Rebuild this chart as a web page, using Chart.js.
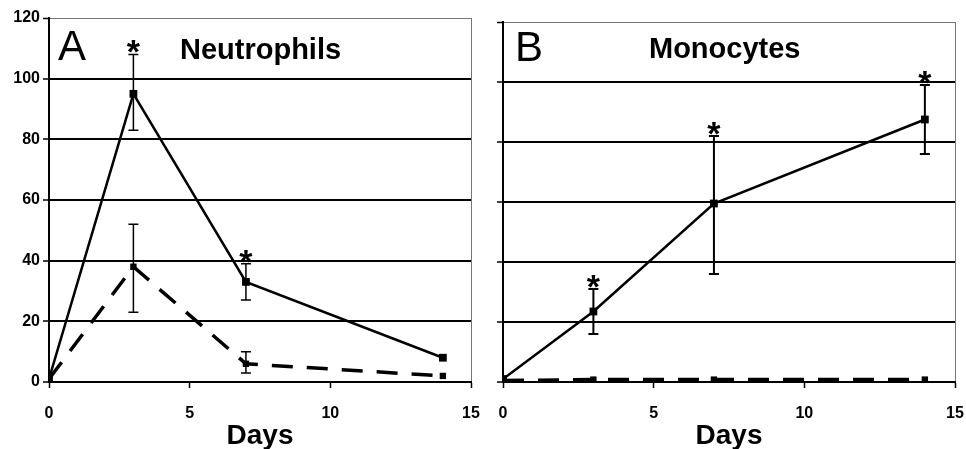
<!DOCTYPE html>
<html>
<head>
<meta charset="utf-8">
<script src="https://cdn.jsdelivr.net/npm/chart.js@4.4.0/dist/chart.umd.min.js"></script>
<style>
  html, body { margin: 0; padding: 0; background: #fff; }
  .panel { position: absolute; top: 0; width: 483px; height: 449px; }
  #pA { left: 0; }
  #pB { left: 483px; }
</style>
</head>
<body>
<div class="panel" id="pA"><canvas id="cA" width="483" height="449"></canvas></div>
<div class="panel" id="pB"><canvas id="cB" width="483" height="449"></canvas></div>
<script>
// data
const days = [0, 3, 7, 14];
const xTicks = [0, 5, 10, 15];
const yTicks = [0, 20, 40, 60, 80, 100, 120];

const neutroInfected = [1, 95, 33, 8];
const neutroInfLow = [null, 83, 27, null];
const neutroInfHigh = [null, 108, 39, null];
const neutroControl = [1, 38, 6, 2];
const neutroCtlLow = [null, 23, 3, null];
const neutroCtlHigh = [null, 52, 10, null];
const neutroStars = [false, true, true, false];

const monoInfected = [1, 23.5, 59.5, 87.5];
const monoInfLow = [null, 16, 36, 76];
const monoInfHigh = [null, 31, 82, 99];
const monoControl = [0.5, 0.8, 0.8, 0.8];
const monoStars = [false, true, true, true];

const FONT = "'Liberation Sans', Arial, Helvetica, sans-serif";

function pts(vals) { return days.map((d, i) => ({ x: d, y: vals[i] })); }

// error bars, stars and the panel labels
const extras = {
  id: 'extras',
  afterDatasetsDraw(chart, args, opts) {
    const ctx = chart.ctx, xs = chart.scales.x, ys = chart.scales.y;
    ctx.save();
    ctx.strokeStyle = '#000';
    ctx.lineWidth = opts.errWidth;
    (opts.errors || []).forEach(e => {
      days.forEach((d, i) => {
        if (e.low[i] == null) return;
        const x = xs.getPixelForValue(d);
        const y1 = ys.getPixelForValue(e.low[i]), y2 = ys.getPixelForValue(e.high[i]);
        ctx.beginPath();
        ctx.moveTo(x, y1); ctx.lineTo(x, y2);
        ctx.moveTo(x - 5, y1); ctx.lineTo(x + 5, y1);
        ctx.moveTo(x - 5, y2); ctx.lineTo(x + 5, y2);
        ctx.stroke();
        if (e.stars && e.stars[i]) {
          ctx.fillStyle = '#000';
          ctx.font = 'bold 34px ' + FONT;
          ctx.textAlign = 'center';
          ctx.textBaseline = 'alphabetic';
          ctx.fillText('*', x, y2 + 9);
        }
      });
    });
    const a = chart.chartArea;
    ctx.fillStyle = '#000';
    ctx.textBaseline = 'alphabetic';
    ctx.textAlign = 'left';
    ctx.font = '42px ' + FONT;
    ctx.fillText(opts.letter, a.left + opts.letterDx, a.top + opts.letterDy);
    ctx.font = 'bold 29px ' + FONT;
    ctx.fillText(opts.title, a.left + opts.titleDx, a.top + opts.titleDy);
    ctx.restore();
  }
};

function makeChart(id, cfg) {
  return new Chart(document.getElementById(id), {
    type: 'line',
    data: {
      datasets: [
        { data: pts(cfg.infected), borderColor: '#000', backgroundColor: '#000', borderWidth: 2.5,
          pointStyle: 'rect', pointRadius: 5.5, pointBorderWidth: 0, pointBackgroundColor: '#000' },
        { data: pts(cfg.control), borderColor: '#000', backgroundColor: '#000', borderWidth: 3.5,
          borderDash: [21, 14], pointStyle: 'rect', pointRadius: 4.5, pointBorderWidth: 0, pointBackgroundColor: '#000' }
      ]
    },
    options: {
      responsive: false,
      animation: false,
      events: [],
      layout: { padding: { left: 0, top: cfg.top, right: cfg.right, bottom: 0 } },
      plugins: {
        legend: { display: false },
        tooltip: { enabled: false },
        extras: { letter: cfg.letter, title: cfg.title, letterDx: cfg.letterDx, letterDy: cfg.letterDy,
          titleDx: cfg.titleDx, titleDy: cfg.titleDy, errWidth: cfg.errWidth, errors: cfg.errors }
      },
      scales: {
        x: {
          type: 'linear', min: 0, max: 15,
          afterBuildTicks: s => { s.ticks = xTicks.map(v => ({ value: v })); },
          afterFit: s => { s.height = 449 - 382; s.paddingLeft = 0; s.paddingRight = 0; },
          ticks: { font: { family: FONT, size: 16, weight: 'bold' }, color: '#000', padding: 16, maxRotation: 0 },
          grid: {
            color: c => (c.tick && c.tick.value === 15) ? '#777' : 'rgba(0,0,0,0)',
            lineWidth: 1, tickColor: '#000', tickWidth: 1.5, tickLength: 6
          },
          border: { color: '#000', width: 2 },
          title: { display: true, text: 'Days', color: '#000',
            font: { family: FONT, size: 28, weight: 'bold', lineHeight: 0.9 }, padding: { top: 0, bottom: 0 } }
        },
        y: {
          type: 'linear', min: 0, max: 120,
          afterBuildTicks: s => { s.ticks = yTicks.map(v => ({ value: v })); },
          afterFit: s => { s.width = cfg.yWidth; s.paddingTop = 0; s.paddingBottom = 0; },
          ticks: { display: cfg.yLabels, font: { family: FONT, size: 16, weight: 'bold' }, color: '#000', padding: 3 },
          grid: {
            color: c => (c.tick && c.tick.value === 120) ? '#777' : '#000',
            lineWidth: c => (c.tick && c.tick.value === 120) ? 1 : 2,
            tickColor: '#000', tickWidth: 1.5, tickLength: 6
          },
          border: { color: '#000', width: 2 }
        }
      }
    },
    plugins: [extras]
  });
}

makeChart('cA', {
  infected: neutroInfected, control: neutroControl,
  top: 18, right: 12, yWidth: 49, yLabels: true,
  letter: 'A', title: 'Neutrophils', letterDx: 9, letterDy: 42, titleDx: 131, titleDy: 41, errWidth: 1.5,
  errors: [
    { low: neutroInfLow, high: neutroInfHigh, stars: neutroStars },
    { low: neutroCtlLow, high: neutroCtlHigh }
  ]
});

makeChart('cB', {
  infected: monoInfected, control: monoControl,
  top: 22, right: 11, yWidth: 20, yLabels: false,
  letter: 'B', title: 'Monocytes', letterDx: 12, letterDy: 39, titleDx: 146, titleDy: 36, errWidth: 2,
  errors: [
    { low: monoInfLow, high: monoInfHigh, stars: monoStars }
  ]
});
</script>
</body>
</html>
